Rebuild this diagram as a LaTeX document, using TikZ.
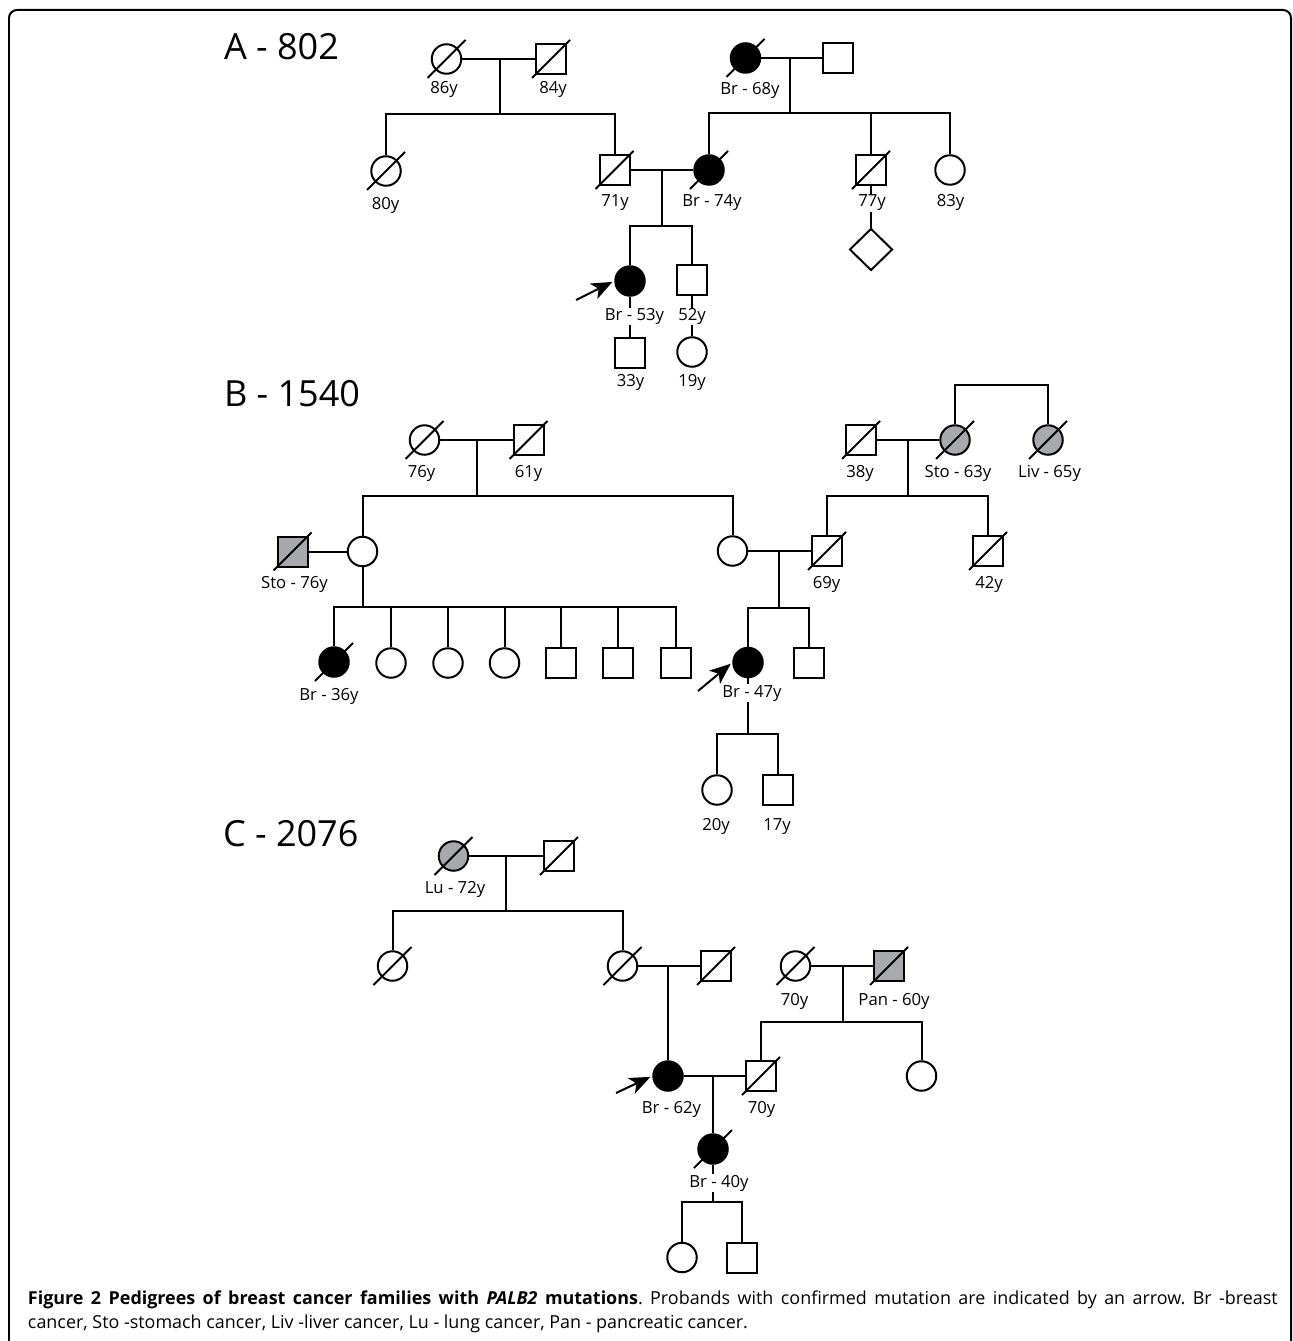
\documentclass[tikz,border=0pt]{standalone}
\usepackage{fontspec}
\setmainfont{Open Sans}
\usepackage{tikz}
\usetikzlibrary{arrows.meta,shapes.geometric}

\definecolor{cagray}{RGB}{167,169,172}
\newcommand{\pedlab}{\fontsize{9.5}{11}\selectfont}
\newcommand{\famtitle}{\fontsize{20.5}{24}\selectfont}
\newcommand{\capfont}{\fontsize{10.2}{12}\selectfont}
\frenchspacing

\begin{document}
\begin{tikzpicture}[
		x=0.02cm, y=-0.02cm, line width=0.04cm,
		fem/.style={circle, draw, fill=white, minimum size=0.59cm, inner sep=0pt},
		mal/.style={rectangle, draw, fill=white, minimum size=0.6cm, inner sep=0pt},
		unk/.style={diamond, draw, fill=white, minimum width=0.86cm, minimum height=0.84cm, inner sep=0pt},
		brca/.style={fill=black},
		othca/.style={fill=cagray},
		lab/.style={font=\pedlab, fill=white, inner sep=0.5pt, anchor=base},
		fam/.style={font=\famtitle, inner sep=0pt, anchor=base west},
		probarrow/.style={-{Stealth[length=0.42cm,width=0.34cm,inset=0.11cm]}, shorten >=0.04cm}
	]
		\useasboundingbox (0,0) rectangle (1293,1341);
		% Frame
		\draw[rounded corners=0.16cm] (9,1341) -- (9,10) -- (1291,10) -- (1291,1341);
		
		% Family A
		\node[fam] (ta) at (223,59.3) {A - 802};
		\node[fem] (a1) at (446.5,59) {};
		\node[mal] (a2) at (551,59) {};
		\node[fem,brca] (a3) at (745.5,58) {};
		\node[mal] (a4) at (837.5,58) {};
		\node[fem] (a5) at (386,171) {};
		\node[mal] (a6) at (614.5,170) {};
		\node[fem,brca] (a7) at (709,170) {};
		\node[mal] (a8) at (871,170) {};
		\node[fem] (a9) at (950,170) {};
		\node[unk] (a10) at (871,249.5) {};
		\node[fem,brca] (a11) at (630,281) {};
		\node[mal] (a12) at (692,280) {};
		\node[mal] (a13) at (630,353) {};
		\node[fem] (a14) at (692,352) {};
		\coordinate (ma1) at (499.5,59);
		\coordinate (sa1) at (499.5,114);
		\coordinate (ma2) at (790,58);
		\coordinate (sa2) at (790,113);
		\coordinate (ma3) at (662,170);
		\coordinate (sa3) at (662,226);
		
		\draw (a1) -- (a2);
		\draw (ma1) -- (sa1);
		\draw (a5) |- (sa1) -| (a6);
		\draw (a3) -- (a4);
		\draw (ma2) -- (sa2);
		\draw (a7) |- (sa2) -| (a9);
		\draw (a8) -- (a8 |- sa2);
		\draw (a6) -- (a7);
		\draw (ma3) -- (sa3);
		\draw (a11) |- (sa3) -| (a12);
		\draw (a11) -- (a13);
		\draw (a12) -- (a14);
		\draw (a8) -- (a10);
		
		% Family B
		\node[fam] (tb) at (223,406.7) {B - 1540};
		\node[fem] (b1) at (424.5,440) {};
		\node[mal] (b2) at (528.5,440) {};
		\node[mal] (b3) at (861,440) {};
		\node[fem,othca] (b4) at (955,440) {};
		\node[fem,othca] (b5) at (1048,440) {};
		\node[mal,othca] (b6) at (292.5,551.5) {};
		\node[fem] (b7) at (362.5,551.5) {};
		\node[fem] (b8) at (732.5,551) {};
		\node[mal] (b9) at (827,551) {};
		\node[mal] (b10) at (988,551) {};
		\node[fem,brca] (b11) at (334,662) {};
		\node[fem] (b12) at (391,663) {};
		\node[fem] (b13) at (448,663) {};
		\node[fem] (b14) at (504.5,663) {};
		\node[mal] (b15) at (560.5,663) {};
		\node[mal] (b16) at (618,663) {};
		\node[mal] (b17) at (675.5,663) {};
		\node[fem,brca] (b18) at (748,662.5) {};
		\node[mal] (b19) at (809,663) {};
		\node[fem] (b20) at (717,790) {};
		\node[mal] (b21) at (778,790) {};
		\coordinate (mb1) at (477,440);
		\coordinate (sb1) at (477,496);
		\coordinate (mb2) at (908,440);
		\coordinate (sb2) at (908,496);
		\coordinate (sb3) at (1001,385);
		\coordinate (sb4) at (362.5,607);
		\coordinate (mb3) at (779,551);
		\coordinate (sb5) at (779,608);
		\coordinate (sb6) at (748,734);
		
		\draw (b1) -- (b2);
		\draw (mb1) -- (sb1);
		\draw (b7) |- (sb1) -| (b8);
		\draw (b3) -- (b4);
		\draw (mb2) -- (sb2);
		\draw (b9) |- (sb2) -| (b10);
		\draw (b4) |- (sb3) -| (b5);
		\draw (b6) -- (b7);
		\draw (b7) -- (sb4);
		\draw (b11) |- (sb4) -| (b17);
		\foreach \i in {12,...,16}
			\draw (b\i) -- (b\i |- sb4);
		\draw (b8) -- (b9);
		\draw (mb3) -- (sb5);
		\draw (b18) |- (sb5) -| (b19);
		\draw (b18) -- (sb6);
		\draw (b20) |- (sb6) -| (b21);
		
		% Family C
		\node[fam] (tc) at (222,846.7) {C - 2076};
		\node[fem,othca] (c1) at (453.5,856) {};
		\node[mal] (c2) at (559,856) {};
		\node[fem] (c3) at (392.5,966) {};
		\node[fem] (c4) at (622.5,966) {};
		\node[mal] (c5) at (716,966) {};
		\node[fem] (c6) at (795.5,966) {};
		\node[mal,othca] (c7) at (889,966) {};
		\node[fem,brca] (c8) at (668,1076) {};
		\node[mal] (c9) at (761,1076) {};
		\node[fem] (c10) at (921.5,1076) {};
		\node[fem,brca] (c11) at (713,1149) {};
		\node[fem] (c12) at (682,1257.5) {};
		\node[mal] (c13) at (742,1257.5) {};
		\coordinate (mc1) at (506,856);
		\coordinate (sc1) at (506,911);
		\coordinate (mc2) at (668,966);
		\coordinate (mc3) at (842.5,966);
		\coordinate (sc2) at (842.5,1022);
		\coordinate (mc4) at (713,1076);
		\coordinate (sc3) at (713,1202);
		
		\draw (c1) -- (c2);
		\draw (mc1) -- (sc1);
		\draw (c3) |- (sc1) -| (c4);
		\draw (c4) -- (c5);
		\draw (mc2) -- (c8);
		\draw (c6) -- (c7);
		\draw (mc3) -- (sc2);
		\draw (c9) |- (sc2) -| (c10);
		\draw (c8) -- (c9);
		\draw (mc4) -- (c11);
		\draw (c11) -- (sc3);
		\draw (c12) |- (sc3) -| (c13);
		
		% Deceased
		\foreach \n in {a1,a2,a3,a5,a6,a7,a8,b1,b2,b3,b4,b5,b6,b9,b10,b11,c1,c2,c3,c4,c5,c6,c7,c9,c11}
			\draw ([shift={(-19,19)}]\n.center) -- ([shift={(19,-19)}]\n.center);
		
		% Labels
		\node[lab] (la1) at (444,94) {86y};
		\node[lab] (la2) at (553,94) {84y};
		\node[lab] (la3) at (750,95) {Br - 68y};
		\node[lab] (la5) at (385.5,209.5) {80y};
		\node[lab] (la6) at (615,207) {71y};
		\node[lab] (la7) at (712,207) {Br - 74y};
		\node[lab] (la8) at (872,207) {77y};
		\node[lab] (la9) at (950.5,207) {83y};
		\node[lab] (la11) at (634.5,320.5) {Br - 53y};
		\node[lab] (la12) at (692,320.5) {52y};
		\node[lab] (la13) at (630.5,386) {33y};
		\node[lab] (la14) at (692,386) {19y};
		
		\node[lab] (lb1) at (421.5,477) {76y};
		\node[lab] (lb2) at (528.5,477) {61y};
		\node[lab] (lb3) at (860,477) {38y};
		\node[lab] (lb4) at (958,477) {Sto - 63y};
		\node[lab] (lb5) at (1049.5,477) {Liv - 65y};
		\node[lab] (lb6) at (294.5,588) {Sto - 76y};
		\node[lab] (lb9) at (826.5,588) {69y};
		\node[lab] (lb10) at (989,588) {42y};
		\node[lab] (lb11) at (329,700) {Br - 36y};
		\node[lab] (lb18) at (752,697) {Br - 47y};
		\node[lab] (lb20) at (716,830) {20y};
		\node[lab] (lb21) at (777,830) {17y};
		
		\node[lab] (lc1) at (455,893) {Lu - 72y};
		\node[lab] (lc6) at (794.5,1005) {70y};
		\node[lab] (lc7) at (894,1005) {Pan - 60y};
		\node[lab] (lc8) at (671.5,1113) {Br - 62y};
		\node[lab] (lc9) at (761.5,1113) {70y};
		\node[lab] (lc11) at (719,1187) {Br - 40y};
		
		% Probands
		\coordinate (pa) at (576,300);
		\coordinate (pb) at (698,691);
		\coordinate (pc) at (616,1093);
		\draw[probarrow] (pa) -- (a11.west);
		\draw[probarrow] (pb) -- (b18.west);
		\draw[probarrow] (pc) -- (c8.west);
		
		% Caption
		\node[anchor=base west, inner sep=0pt, font=\capfont] (cap1) at (27,1304)
			{\makebox[25cm][s]{\textbf{Figure 2 Pedigrees of breast cancer families with \textit{PALB2} mutations}. Probands with confirmed mutation are indicated by an arrow. Br -breast}};
		\node[anchor=base west, inner sep=0pt, font=\capfont] (cap2) at (27,1328)
			{cancer, Sto -stomach cancer, Liv -liver cancer, Lu - lung cancer, Pan - pancreatic cancer.};
	\end{tikzpicture}
\end{document}
